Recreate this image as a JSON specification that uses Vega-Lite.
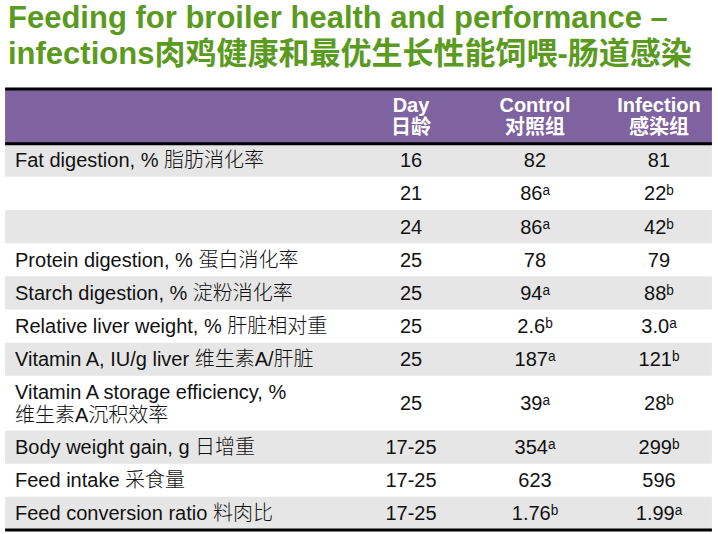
{
  "$schema": "https://vega.github.io/schema/vega-lite/v6.json",
  "width": 718,
  "height": 448,
  "autosize": "none",
  "padding": {"top": 86, "left": 0, "right": 0, "bottom": 0},
  "background": "white",
  "title": {
    "text": ["Feeding for broiler health and performance –", "infections肉鸡健康和最优生长性能饲喂-肠道感染"],
    "anchor": "start",
    "frame": "group",
    "dx": 8,
    "offset": 15,
    "fontSize": 31,
    "fontWeight": "bold",
    "font": "Liberation Sans, Noto Sans CJK SC, sans-serif",
    "color": "#5A9A1E",
    "lineHeight": 36
  },
  "config": {"view": {"stroke": null}},
  "data": {
    "values": [
      {"r": 0, "lines": 2, "label": "", "day": "Day\n日龄", "control": "Control\n对照组", "infection": "Infection\n感染组"},
      {"r": 1, "lines": 1, "label": "Fat digestion, % 脂肪消化率", "day": "16", "control": "82", "infection": "81"},
      {"r": 2, "lines": 1, "label": "", "day": "21", "control": "86ᵃ", "infection": "22ᵇ"},
      {"r": 3, "lines": 1, "label": "", "day": "24", "control": "86ᵃ", "infection": "42ᵇ"},
      {"r": 4, "lines": 1, "label": "Protein digestion, % 蛋白消化率", "day": "25", "control": "78", "infection": "79"},
      {"r": 5, "lines": 1, "label": "Starch digestion, % 淀粉消化率", "day": "25", "control": "94ᵃ", "infection": "88ᵇ"},
      {"r": 6, "lines": 1, "label": "Relative liver weight, % 肝脏相对重", "day": "25", "control": "2.6ᵇ", "infection": "3.0ᵃ"},
      {"r": 7, "lines": 1, "label": "Vitamin A, IU/g liver 维生素A/肝脏", "day": "25", "control": "187ᵃ", "infection": "121ᵇ"},
      {"r": 8, "lines": 2, "label": "Vitamin A storage efficiency, %\n维生素A沉积效率", "day": "25", "control": "39ᵃ", "infection": "28ᵇ"},
      {"r": 9, "lines": 1, "label": "Body weight gain, g 日增重", "day": "17-25", "control": "354ᵃ", "infection": "299ᵇ"},
      {"r": 10, "lines": 1, "label": "Feed intake 采食量", "day": "17-25", "control": "623", "infection": "596"},
      {"r": 11, "lines": 1, "label": "Feed conversion ratio 料肉比", "day": "17-25", "control": "1.76ᵇ", "infection": "1.99ᵃ"}
    ]
  },
  "transform": [
    {"calculate": "1 + 0.65 * (datum.lines - 1)", "as": "u"},
    {"window": [{"op": "sum", "field": "u", "as": "end"}], "sort": [{"field": "r"}]},
    {"calculate": "datum.end - datum.u", "as": "start"},
    {"calculate": "(datum.start + datum.end) / 2", "as": "mid"}
  ],
  "layer": [
    {
      "transform": [{"filter": "datum.r > 0 && datum.r % 2 == 1"}],
      "mark": {"type": "rect", "color": "#E6E6E6"},
      "encoding": {
        "x": {"datum": -2.274, "type": "quantitative", "scale": {"domain": [-2.315, 3.476], "nice": false, "zero": false}, "axis": null},
        "x2": {"datum": 3.427},
        "y": {"field": "start", "type": "quantitative", "scale": {"domain": [-0.09, 13.42], "nice": false, "zero": false, "reverse": true}, "axis": null},
        "y2": {"field": "end"}
      }
    },
    {
      "transform": [{"filter": "datum.r == 0"}],
      "mark": {"type": "rect", "color": "#7F63A1"},
      "encoding": {
        "x": {"datum": -2.274, "type": "quantitative", "scale": {"domain": [-2.315, 3.476], "nice": false, "zero": false}, "axis": null},
        "x2": {"datum": 3.427},
        "y": {"field": "start", "type": "quantitative", "axis": null},
        "y2": {"field": "end"}
      }
    },
    {
      "transform": [{"filter": "datum.r == 0"}],
      "mark": {"type": "rule", "color": "#000000", "strokeWidth": 3},
      "encoding": {
        "x": {"datum": -2.274, "type": "quantitative", "axis": null},
        "x2": {"datum": 3.427},
        "y": {"field": "start", "type": "quantitative", "axis": null}
      }
    },
    {
      "transform": [{"filter": "datum.r == 0 || datum.r == 11"}],
      "mark": {"type": "rule", "color": "#000000", "strokeWidth": 3},
      "encoding": {
        "x": {"datum": -2.274, "type": "quantitative", "axis": null},
        "x2": {"datum": 3.427},
        "y": {"field": "end", "type": "quantitative", "axis": null}
      }
    },
    {
      "transform": [{"filter": "datum.r > 0 && datum.lines == 1"}],
      "mark": {"type": "text", "align": "left", "baseline": "middle", "dy": 1, "fontSize": 20, "fontWeight": 300, "font": "Liberation Sans, Noto Sans CJK SC, sans-serif", "color": "#111111"},
      "encoding": {
        "x": {"datum": -2.194, "type": "quantitative", "axis": null},
        "y": {"field": "mid", "type": "quantitative", "axis": null},
        "text": {"field": "label"}
      }
    },
    {
      "transform": [{"filter": "datum.r > 0 && datum.lines == 2"}],
      "mark": {"type": "text", "align": "left", "baseline": "middle", "fontSize": 20, "fontWeight": 300, "font": "Liberation Sans, Noto Sans CJK SC, sans-serif", "color": "#111111", "lineBreak": "\n", "lineHeight": 23, "dy": -10.5},
      "encoding": {
        "x": {"datum": -2.194, "type": "quantitative", "axis": null},
        "y": {"field": "mid", "type": "quantitative", "axis": null},
        "text": {"field": "label"}
      }
    },
    {
      "transform": [
        {"filter": "datum.r > 0"},
        {"fold": ["day", "control", "infection"], "as": ["key", "value"]},
        {"calculate": "indexof(['day','control','infection'], datum.key) + 1", "as": "col"}
      ],
      "mark": {"type": "text", "align": "center", "baseline": "middle", "dy": 1, "fontSize": 20, "font": "Liberation Sans, DejaVu Sans, sans-serif", "color": "#111111"},
      "encoding": {
        "x": {"field": "col", "type": "quantitative", "axis": null},
        "y": {"field": "mid", "type": "quantitative", "axis": null},
        "text": {"field": "value"}
      }
    },
    {
      "transform": [
        {"filter": "datum.r == 0"},
        {"fold": ["day", "control", "infection"], "as": ["key", "value"]},
        {"calculate": "indexof(['day','control','infection'], datum.key) + 1", "as": "col"}
      ],
      "mark": {"type": "text", "align": "center", "baseline": "middle", "fontSize": 20, "fontWeight": "bold", "font": "Liberation Sans, Noto Sans CJK SC, sans-serif", "color": "#FFFFFF", "lineBreak": "\n", "lineHeight": 22, "dy": -10},
      "encoding": {
        "x": {"field": "col", "type": "quantitative", "axis": null},
        "y": {"field": "mid", "type": "quantitative", "axis": null},
        "text": {"field": "value"}
      }
    }
  ]
}
